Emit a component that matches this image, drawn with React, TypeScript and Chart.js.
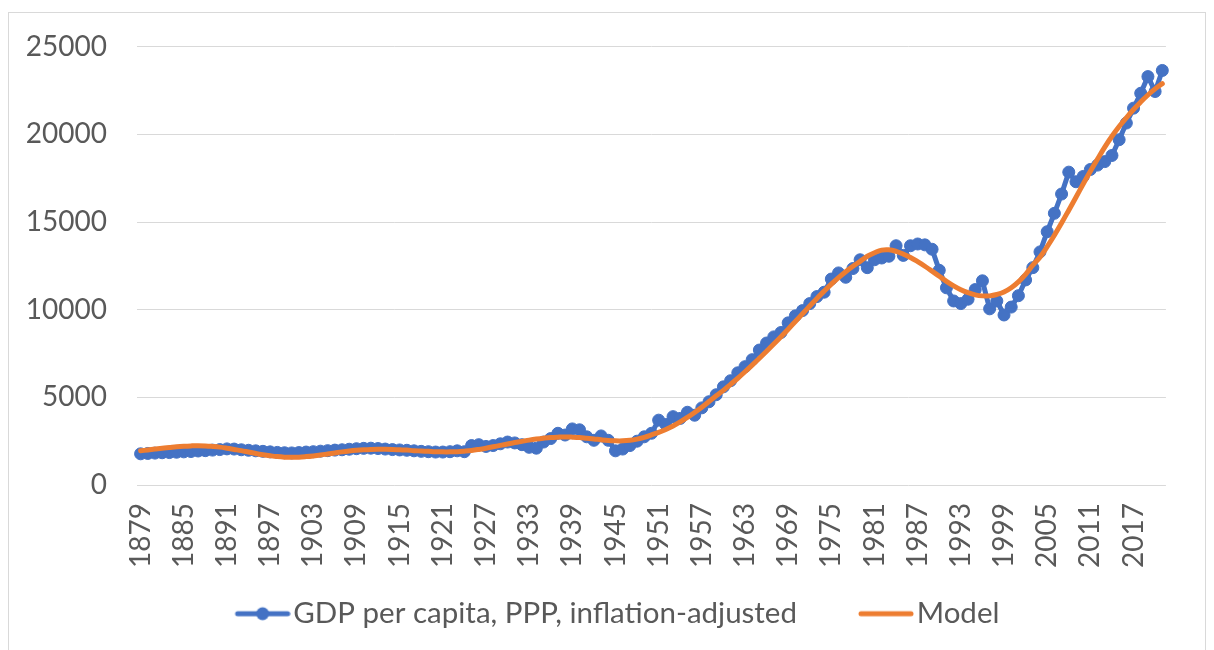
import React, { useEffect, useRef } from 'react';
import { Chart, registerables } from 'chart.js';

Chart.register(...registerables);

// Categories: one per year, 1879–2021
const FIRST_YEAR = 1879;
const LAST_YEAR = 2021;
const YEARS: string[] = Array.from({ length: LAST_YEAR - FIRST_YEAR + 1 }, (_, i) => String(FIRST_YEAR + i));

// Years that carry a visible tick label
const TICK_YEARS: string[] = [
  '1879', '1885', '1891', '1897', '1903', '1909', '1915', '1921', '1927', '1933', '1939', '1945',
  '1951', '1957', '1963', '1969', '1975', '1981', '1987', '1993', '1999', '2005', '2011', '2017',
];

// GDP per capita, PPP, inflation-adjusted
const GDP: number[] = [
  1780, 1800, 1820, 1840, 1850, 1870, 1890, 1910, 1940, 1960, // 1879-1888
  1990, 2020, 2060, 2050, 2010, 1980, 1950, 1920, 1890, 1860, // 1889-1898
  1840, 1830, 1850, 1880, 1900, 1930, 1960, 1990, 2010, 2040, // 1899-1908
  2070, 2090, 2100, 2080, 2050, 2020, 2000, 1980, 1950, 1920, // 1909-1918
  1900, 1880, 1880, 1900, 1950, 1900, 2250, 2300, 2200, 2250, // 1919-1928
  2350, 2450, 2400, 2300, 2150, 2100, 2450, 2650, 2950, 2850, // 1929-1938
  3200, 3150, 2750, 2550, 2800, 2550, 1950, 2050, 2250, 2500, // 1939-1948
  2750, 2950, 3700, 3450, 3900, 3800, 4150, 3980, 4400, 4750, // 1949-1958
  5150, 5600, 5950, 6400, 6750, 7150, 7700, 8100, 8450, 8700, // 1959-1968
  9250, 9650, 9950, 10350, 10750, 11000, 11750, 12100, 11850, 12350, // 1969-1978
  12850, 12400, 12850, 12950, 13050, 13650, 13100, 13650, 13750, 13700, // 1979-1988
  13450, 12250, 11250, 10500, 10350, 10600, 11150, 11650, 10050, 10500, // 1989-1998
  9700, 10150, 10800, 11700, 12400, 13300, 14450, 15500, 16600, 17850, // 1999-2008
  17300, 17600, 18000, 18250, 18450, 18800, 19700, 20650, 21500, 22350, // 2009-2018
  23300, 22450, 23650, // 2019-2021
];

// Model (smooth fitted curve)
const MODEL: number[] = [
  1950, 2000, 2050, 2100, 2140, 2180, 2210, 2230, 2240, 2230, // 1879-1888
  2200, 2160, 2100, 2030, 1960, 1880, 1800, 1730, 1670, 1620, // 1889-1898
  1590, 1580, 1590, 1620, 1660, 1710, 1770, 1830, 1890, 1940, // 1899-1908
  1980, 2010, 2030, 2040, 2040, 2030, 2010, 1990, 1960, 1940, // 1909-1918
  1920, 1900, 1890, 1890, 1900, 1930, 1970, 2030, 2100, 2180, // 1919-1928
  2260, 2340, 2420, 2490, 2560, 2620, 2670, 2710, 2730, 2740, // 1929-1938
  2730, 2710, 2670, 2630, 2580, 2540, 2520, 2520, 2550, 2620, // 1939-1948
  2720, 2860, 3000, 3170, 3370, 3600, 3860, 4140, 4440, 4760, // 1949-1958
  5090, 5400, 5740, 6090, 6460, 6840, 7230, 7630, 8040, 8460, // 1959-1968
  8890, 9330, 9770, 10210, 10640, 11060, 11460, 11830, 12170, 12480, // 1969-1978
  12760, 13050, 13250, 13400, 13420, 13330, 13170, 12980, 12740, 12480, // 1979-1988
  12200, 11910, 11620, 11360, 11140, 10970, 10850, 10790, 10790, 10870, // 1989-1998
  11010, 11250, 11590, 12020, 12540, 13000, 13600, 14250, 14950, 15680, // 1999-2008
  16420, 17170, 17900, 18600, 19280, 19900, 20450, 20950, 21420, 21850, // 2009-2018
  22250, 22600, 22900, // 2019-2021
];

const SERIES_NAMES: string[] = ['GDP per capita, PPP, inflation-adjusted', 'Model'];

const BLUE = '#4472C4';
const ORANGE = '#ED7D31';
const TEXT = '#595959';
const GRID = '#D9D9D9';
const FONT = 'Lato, "Open Sans", sans-serif';

// Legend symbol: visible 56px line (with optional marker) at the right end of a wider image
const SYM_W = 75; // pointStyleWidth
function makeSymbol(color: string, withMarker: boolean): HTMLCanvasElement {
  const c = document.createElement('canvas');
  const w = SYM_W + 24;
  c.width = w;
  c.height = 16;
  const ctx = c.getContext('2d')!;
  const x0 = w - 56;
  ctx.strokeStyle = color;
  ctx.lineWidth = 5;
  ctx.lineCap = 'round';
  ctx.beginPath();
  ctx.moveTo(x0 + 3, 8);
  ctx.lineTo(x0 + 53, 8);
  ctx.stroke();
  if (withMarker) {
    ctx.fillStyle = color;
    ctx.beginPath();
    ctx.arc(x0 + 28, 8, 6.5, 0, Math.PI * 2);
    ctx.fill();
  }
  return c;
}

const borderPlugin = {
  id: 'outerBorder',
  beforeDraw(chart: any) {
    const { ctx } = chart;
    ctx.save();
    ctx.fillStyle = '#ffffff';
    ctx.fillRect(0, 0, chart.width, chart.height);
    ctx.strokeStyle = GRID;
    ctx.lineWidth = 1;
    ctx.strokeRect(8.5, 12.5, 1197, 650);
    ctx.restore();
  },
};

export default function App() {
  const canvasRef = useRef<HTMLCanvasElement | null>(null);

  useEffect(() => {
    if (!canvasRef.current) return;
    const blueSym = makeSymbol(BLUE, true);
    const orangeSym = makeSymbol(ORANGE, false);

    const chart = new Chart(canvasRef.current, {
      type: 'line',
      data: {
        labels: YEARS,
        datasets: [
          {
            label: SERIES_NAMES[0],
            data: GDP,
            borderColor: BLUE,
            backgroundColor: BLUE,
            borderWidth: 5,
            pointRadius: 6,
            pointBorderWidth: 1,
            pointBackgroundColor: BLUE,
            pointBorderColor: BLUE,
            pointHoverRadius: 6,
            tension: 0,
            order: 1,
          },
          {
            label: SERIES_NAMES[1],
            data: MODEL,
            borderColor: ORANGE,
            backgroundColor: ORANGE,
            borderWidth: 5,
            pointRadius: 0,
            pointHoverRadius: 0,
            tension: 0.4,
            borderCapStyle: 'round',
            order: 0,
          },
        ],
      },
      options: {
        responsive: false,
        animation: false,
        layout: { padding: { left: 14, right: 25, top: 45, bottom: 11.5 } },
        plugins: {
          tooltip: { enabled: false },
          legend: {
            position: 'bottom',
            labels: {
              usePointStyle: true,
              pointStyleWidth: SYM_W,
              padding: 30,
              color: TEXT,
              font: { family: FONT, size: 29.5 },
              generateLabels: () => [
                {
                  text: SERIES_NAMES[0],
                  pointStyle: blueSym,
                  fillStyle: BLUE,
                  strokeStyle: BLUE,
                  lineWidth: 0,
                  hidden: false,
                  datasetIndex: 0,
                  fontColor: TEXT,
                } as any,
                {
                  text: SERIES_NAMES[1],
                  pointStyle: orangeSym,
                  fillStyle: ORANGE,
                  strokeStyle: ORANGE,
                  lineWidth: 0,
                  hidden: false,
                  datasetIndex: 1,
                  fontColor: TEXT,
                } as any,
              ],
            },
          },
        },
        scales: {
          x: {
            type: 'category',
            offset: true,
            grid: { display: false, drawTicks: false },
            border: { display: false },
            ticks: {
              autoSkip: false,
              minRotation: 90,
              maxRotation: 90,
              padding: 18,
              color: TEXT,
              font: { family: FONT, size: 28 },
              callback: (_v: any, index: number) => (TICK_YEARS.includes(YEARS[index]) ? YEARS[index] : ''),
            },
            afterFit: (scale: any) => {
              scale.height = 84;
            },
          },
          y: {
            min: 0,
            max: 25000,
            grid: { color: GRID, lineWidth: 1, drawTicks: false },
            border: { display: false },
            ticks: {
              stepSize: 5000,
              padding: 30,
              color: TEXT,
              font: { family: FONT, size: 28 },
              callback: (v: any) => String(v),
            },
            afterFit: (scale: any) => {
              scale.width = 123;
            },
          },
        },
      },
      plugins: [borderPlugin],
    } as any);

    return () => chart.destroy();
  }, []);

  return (
    <div style={{ position: 'absolute', left: 0, top: 0, width: 1214, height: 650 }}>
      <canvas ref={canvasRef} width={1214} height={650} style={{ display: 'block' }} />
    </div>
  );
}
